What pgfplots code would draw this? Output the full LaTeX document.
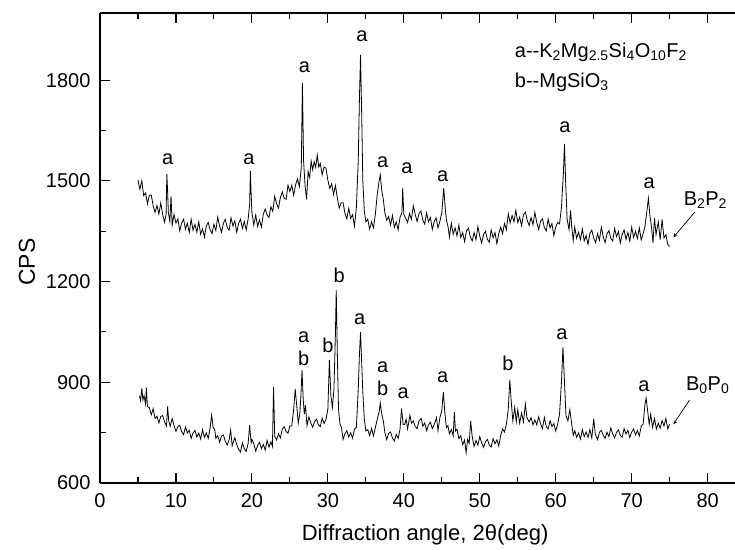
\documentclass[border=0pt]{standalone}
\usepackage{pgfplots}
\pgfplotsset{compat=1.18}
\usepackage{fontspec}
\setmainfont{Liberation Sans}
\begin{document}
\begin{tikzpicture}
\begin{axis}[
  scale only axis,
  width=635pt, height=470pt,
  xmin=0, xmax=83.6, ymin=600, ymax=2000,
  axis x line*=box, axis y line*=left,
  axis line style={line width=1.3pt},
  every tick/.style={line width=1.1pt, black},
  tick align=inside,
  major tick length=10pt, minor tick length=6pt,
  xtick={0,10,...,80}, minor x tick num=1,
  ytick={600,900,1200,1500,1800}, minor y tick num=1,
  /pgf/number format/assume math mode=true,
  /pgf/number format/1000 sep={},
  ticklabel style={font=\fontsize{20}{22}\selectfont},
  xticklabel style={yshift=-7pt},
  yticklabel style={xshift=-6pt},
  xlabel={Diffraction angle, 2θ(deg)},
  ylabel={CPS},
  xlabel style={font=\fontsize{22}{24}\selectfont, at={(axis description cs:0.512,-0.11)}, anchor=center},
  ylabel style={font=\fontsize{23}{25}\selectfont, at={(axis description cs:-0.115,0.47)}, anchor=center},
  clip=false,
]
\addplot[black, line width=0.8pt] coordinates {
(5.0,1502)(5.25,1475)(5.5,1500)(5.75,1456)(6.0,1464)(6.25,1431)(6.5,1457)(6.75,1458)(7.0,1426)(7.25,1406)(7.5,1427)(7.75,1401)(8.0,1434)(8.25,1400)(8.5,1377)(8.7,1400)(8.8,1520)(8.9,1470)(9.0,1405)(9.2,1379)(9.35,1455)(9.5,1368)(9.75,1400)
(10.0,1374)(10.25,1387)(10.5,1351)(10.75,1375)(11.0,1386)(11.25,1356)(11.5,1374)(11.75,1346)(12.0,1386)(12.25,1353)(12.5,1370)(12.75,1347)(13.0,1378)(13.25,1341)(13.5,1357)(13.75,1332)(14.0,1366)(14.25,1376)(14.5,1354)(14.75,1343)
(15.0,1371)(15.25,1352)(15.5,1392)(15.75,1365)(16.0,1347)(16.25,1374)(16.5,1385)(16.75,1361)(17.0,1353)(17.25,1390)(17.5,1366)(17.75,1381)(18.0,1347)(18.25,1373)(18.5,1386)(18.75,1358)(19.0,1379)(19.25,1354)(19.5,1386)(19.7,1430)(19.8,1530)(19.9,1460)
(20.0,1405)(20.25,1368)(20.5,1398)(20.75,1364)(21.0,1384)(21.25,1362)(21.5,1401)(21.75,1416)(22.0,1398)(22.25,1391)(22.5,1423)(22.75,1409)(23.0,1454)(23.25,1432)(23.5,1419)(23.75,1451)(24.0,1467)(24.25,1448)(24.5,1445)(24.75,1487)
(25.0,1468)(25.25,1487)(25.5,1457)(25.75,1488)(26.0,1506)(26.25,1483)(26.5,1540)(26.65,1790)(26.8,1560)(27.0,1485)(27.2,1445)(27.4,1528)(27.6,1510)(27.8,1559)(28.0,1533)(28.2,1557)(28.4,1540)(28.6,1577)(28.8,1541)(29.0,1552)(29.25,1518)(29.5,1541)(29.75,1538)
(30.0,1502)(30.25,1477)(30.5,1491)(30.75,1459)(31.0,1486)(31.25,1448)(31.5,1419)(31.75,1435)(32.0,1435)(32.25,1403)(32.5,1387)(32.75,1418)(33.0,1388)(33.25,1399)(33.5,1365)(33.75,1420)(34.0,1560)(34.15,1740)(34.3,1875)(34.45,1700)(34.6,1500)(34.8,1410)
(35.0,1378)(35.25,1386)(35.5,1356)(35.75,1378)(36.0,1360)(36.25,1400)(36.5,1460)(36.75,1500)(36.9,1518)(37.1,1470)(37.3,1445)(37.5,1405)(37.75,1383)(38.0,1394)(38.25,1368)(38.5,1397)(38.75,1361)(39.0,1378)(39.25,1354)(39.5,1391)(39.75,1405)(39.85,1478)
(40.0,1400)(40.25,1389)(40.5,1376)(40.75,1403)(41.0,1385)(41.25,1426)(41.5,1400)(41.75,1379)(42.0,1403)(42.25,1410)(42.5,1383)(42.75,1371)(43.0,1405)(43.25,1378)(43.5,1391)(43.75,1355)(44.0,1379)(44.25,1390)(44.5,1360)(44.75,1380)
(45.0,1405)(45.25,1478)(45.45,1420)(45.6,1385)(45.85,1360)(46.0,1332)(46.25,1374)(46.5,1341)(46.75,1360)(47.0,1336)(47.25,1368)(47.5,1331)(47.75,1346)(48.0,1319)(48.25,1351)(48.5,1359)(48.75,1334)(49.0,1321)(49.25,1346)(49.5,1325)(49.75,1364)
(50.0,1335)(50.25,1315)(50.5,1341)(50.75,1350)(51.0,1326)(51.25,1317)(51.5,1354)(51.75,1330)(52.0,1346)(52.25,1313)(52.5,1343)(52.75,1362)(53.0,1343)(53.25,1373)(53.5,1354)(53.75,1402)(54.0,1375)(54.25,1397)(54.5,1378)(54.75,1412)
(55.0,1376)(55.25,1392)(55.5,1366)(55.75,1399)(56.0,1407)(56.25,1382)(56.5,1367)(56.75,1391)(57.0,1369)(57.25,1406)(57.5,1376)(57.75,1355)(58.0,1379)(58.25,1387)(58.5,1361)(58.75,1351)(59.0,1386)(59.25,1360)(59.5,1373)(59.75,1337)
(60.0,1363)(60.25,1376)(60.5,1372)(60.75,1420)(61.0,1520)(61.15,1610)(61.3,1500)(61.5,1385)(61.75,1355)(61.95,1412)(62.1,1365)(62.3,1322)(62.5,1362)(62.75,1329)(63.0,1347)(63.25,1325)(63.5,1357)(63.75,1321)(64.0,1337)(64.25,1311)(64.5,1344)(64.75,1353)
(65.0,1329)(65.25,1316)(65.5,1343)(65.75,1323)(66.0,1362)(66.25,1334)(66.5,1316)(66.75,1342)(67.0,1352)(67.25,1329)(67.5,1321)(67.75,1358)(68.0,1334)(68.25,1349)(68.5,1315)(68.75,1341)(69.0,1354)(69.25,1326)(69.5,1346)(69.75,1320)
(70.0,1362)(70.25,1331)(70.5,1350)(70.75,1328)(71.0,1360)(71.25,1324)(71.5,1342)(71.75,1365)(72.0,1410)(72.2,1448)(72.4,1395)(72.6,1365)(72.8,1315)(73.0,1390)(73.2,1340)(73.5,1378)(73.75,1325)(74.0,1385)(74.25,1330)(74.5,1340)(74.75,1310)(75.0,1305)
};
\addplot[black, line width=0.8pt] coordinates {
(5.2,860)(5.35,845)(5.5,882)(5.65,848)(5.8,860)(6.0,835)(6.1,884)(6.25,828)(6.5,824)(6.75,803)(7.0,821)(7.25,792)(7.5,799)(7.75,779)(8.0,798)(8.25,801)(8.5,782)(8.75,770)(8.9,828)(9.05,785)(9.25,769)(9.5,792)(9.75,771)
(10.0,754)(10.25,768)(10.5,772)(10.75,753)(11.0,744)(11.25,767)(11.5,749)(11.75,757)(12.0,733)(12.25,749)(12.5,757)(12.75,737)(13.0,749)(13.25,731)(13.5,758)(13.75,736)(14.0,749)(14.25,733)(14.5,765)(14.7,802)(14.9,765)
(15.1,760)(15.25,733)(15.5,741)(15.75,721)(16.0,740)(16.25,743)(16.5,724)(16.75,713)(17.0,729)(17.2,758)(17.4,711)(17.75,735)(18.0,715)(18.25,700)(18.5,692)(18.75,720)(19.0,702)(19.25,694)(19.5,718)(19.7,772)(19.9,720)
(20.0,730)(20.25,717)(20.5,695)(20.75,712)(21.0,721)(21.25,702)(21.5,715)(21.75,698)(22.0,727)(22.25,707)(22.5,723)(22.7,709)(22.85,886)(23.0,740)(23.25,728)(23.5,747)(23.75,734)(24.0,760)(24.25,768)(24.5,754)(24.75,748)
(25.0,770)(25.25,770)(25.5,820)(25.7,880)(25.9,830)(26.1,778)(26.3,805)(26.45,860)(26.6,936)(26.75,850)(26.9,805)(27.05,832)(27.25,771)(27.5,797)(27.75,779)(28.0,766)(28.25,783)(28.5,790)(28.75,774)(29.0,768)(29.25,793)(29.5,777)(29.75,789)
(30.0,820)(30.2,966)(30.4,860)(30.6,825)(30.8,880)(31.0,1050)(31.1,1174)(31.25,980)(31.4,820)(31.6,775)(31.8,765)(32.0,730)(32.25,747)(32.5,756)(32.75,737)(33.0,750)(33.25,733)(33.5,761)(33.75,765)(34.0,880)(34.15,980)(34.3,1049)(34.45,960)(34.6,870)(34.8,790)
(35.0,755)(35.25,759)(35.5,741)(35.75,763)(36.0,740)(36.25,765)(36.5,790)(36.75,812)(36.9,838)(37.1,805)(37.3,785)(37.5,751)(37.75,729)(38.0,748)(38.25,752)(38.5,734)(38.75,725)(39.0,745)(39.25,733)(39.5,760)(39.7,822)(39.9,775)
(40.1,774)(40.3,790)(40.5,761)(40.8,802)(41.0,778)(41.25,785)(41.5,768)(41.75,762)(42.0,786)(42.3,792)(42.5,769)(42.75,779)(43.0,756)(43.25,773)(43.5,781)(43.75,762)(44.0,774)(44.3,795)(44.5,756)(44.75,795)
(45.0,815)(45.2,871)(45.4,810)(45.6,765)(45.8,771)(46.0,747)(46.25,759)(46.5,741)(46.65,811)(46.8,755)(47.0,760)(47.25,732)(47.5,741)(47.75,714)(48.0,728)(48.2,690)(48.4,730)(48.6,718)(48.8,785)(49.0,738)(49.25,709)(49.5,727)(49.75,713)
(50.0,738)(50.25,719)(50.5,706)(50.75,723)(51.0,730)(51.25,713)(51.5,707)(51.75,732)(52.0,717)(52.25,729)(52.5,710)(52.75,742)(53.0,761)(53.25,752)(53.5,775)(53.75,820)(53.95,907)(54.15,840)(54.35,785)(54.6,825)(54.8,782)
(55.0,818)(55.25,778)(55.5,808)(55.75,782)(56.0,835)(56.2,795)(56.5,782)(56.75,795)(57.0,773)(57.25,788)(57.5,773)(57.75,797)(58.0,777)(58.25,762)(58.5,795)(58.75,768)(59.0,761)(59.25,785)(59.5,768)(59.75,777)
(60.0,755)(60.25,775)(60.5,805)(60.75,900)(60.95,1005)(61.15,900)(61.35,800)(61.6,785)(61.85,818)(62.05,785)(62.3,742)(62.5,756)(62.75,736)(63.0,749)(63.25,731)(63.5,759)(63.75,738)(64.0,752)(64.25,736)(64.5,759)(64.75,734)
(65.0,792)(65.2,746)(65.5,729)(65.75,751)(66.0,757)(66.25,742)(66.5,733)(66.75,751)(67.0,738)(67.25,764)(67.5,746)(67.75,734)(68.0,751)(68.25,758)(68.5,742)(68.75,737)(69.0,762)(69.25,746)(69.5,757)(69.75,735)
(70.0,752)(70.25,761)(70.5,743)(70.75,756)(71.0,740)(71.25,769)(71.5,775)(71.75,835)(71.9,853)(72.1,815)(72.3,775)(72.5,805)(72.75,766)(73.0,792)(73.25,761)(73.5,778)(73.75,763)(74.0,786)(74.25,770)(74.5,792)(74.75,761)(75.0,775)
};
\begin{scope}[every node/.style={font=\fontsize{20}{22}\selectfont, inner sep=0pt, anchor=center}]
\node at (axis cs:8.9,1565) {a};
\node at (axis cs:19.6,1565) {a};
\node at (axis cs:26.9,1838) {a};
\node at (axis cs:34.5,1932) {a};
\node at (axis cs:37.2,1555) {a};
\node at (axis cs:40.4,1537) {a};
\node at (axis cs:45.1,1514) {a};
\node at (axis cs:61.2,1660) {a};
\node at (axis cs:72.3,1493) {a};
\node at (axis cs:26.8,1034) {a};
\node at (axis cs:26.8,972) {b};
\node at (axis cs:30.0,1011) {b};
\node at (axis cs:31.5,1219) {b};
\node at (axis cs:34.2,1088) {a};
\node at (axis cs:37.2,945) {a};
\node at (axis cs:37.2,883) {b};
\node at (axis cs:39.9,868) {a};
\node at (axis cs:45.1,916) {a};
\node at (axis cs:53.7,957) {b};
\node at (axis cs:60.8,1043) {a};
\node at (axis cs:71.6,889) {a};
\node at (axis cs:79.7,1442) {B\textsubscript{2}P\textsubscript{2}};
\node at (axis cs:80.0,892) {B\textsubscript{0}P\textsubscript{0}};
\node[anchor=west] at (axis cs:54.6,1883) {a-{}-K\textsubscript{2}Mg\textsubscript{2.5}Si\textsubscript{4}O\textsubscript{10}F\textsubscript{2}};
\node[anchor=west] at (axis cs:54.6,1793) {b-{}-MgSiO\textsubscript{3}};
\end{scope}
\draw[-stealth, line width=0.7pt] (axis cs:78.3,1407) -- (axis cs:75.5,1332);
\draw[-stealth, line width=0.7pt] (axis cs:77.6,847) -- (axis cs:75.5,775);
\end{axis}
\pgfresetboundingbox
\path ([shift={(-100pt,-66pt)}]current axis.south west) rectangle ([shift={(0pt,13pt)}]current axis.north east);
\end{tikzpicture}
\end{document}
